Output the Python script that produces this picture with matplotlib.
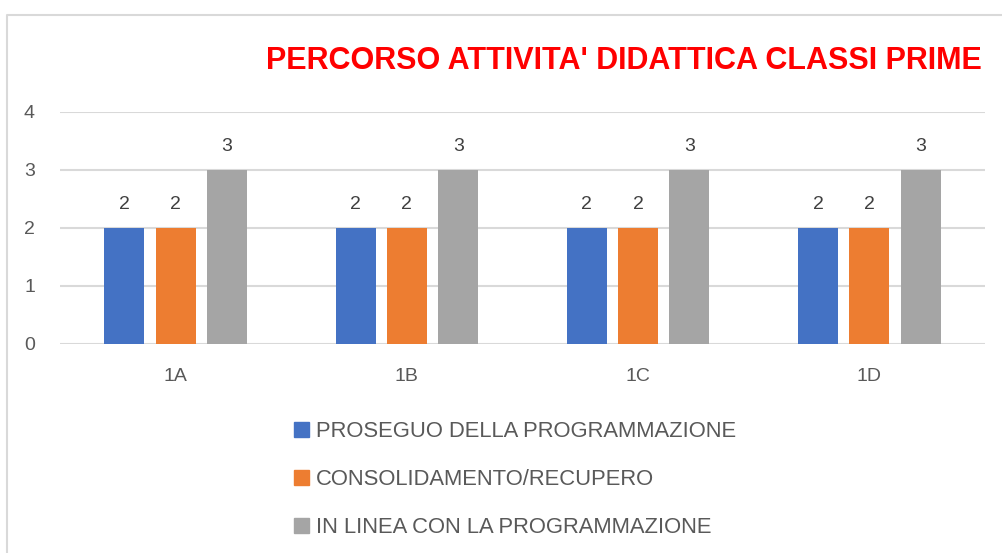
import matplotlib
matplotlib.use("Agg")
import matplotlib.pyplot as plt
import matplotlib.patches as mpatches
from matplotlib.lines import Line2D
import numpy as np

classes = ["1A", "1B", "1C", "1D"]
series_names = [
    "PROSEGUO DELLA PROGRAMMAZIONE",
    "CONSOLIDAMENTO/RECUPERO",
    "IN LINEA CON LA PROGRAMMAZIONE",
]
proseguo = [2, 2, 2, 2]
consolidamento = [2, 2, 2, 2]
in_linea = [3, 3, 3, 3]
colors = ["#4472C4", "#ED7D31", "#A5A5A5"]

plt.rcParams["font.family"] = ["Liberation Sans", "DejaVu Sans"]

W, H = 1003, 553
fig = plt.figure(figsize=(W / 100, H / 100), dpi=100)
fig.patch.set_facecolor("white")

# chart frame (only left and top visible in the crop)
fig.add_artist(Line2D([7 / W, 7 / W, 1], [0, 1 - 15 / H, 1 - 15 / H],
                      color="#d9d9d9", lw=1.5, transform=fig.transFigure))

ax = fig.add_axes([60 / W, 1 - 344 / H, 925 / W, 232 / H])
x = np.arange(len(classes))
width = 0.173
offset = 0.222
for i, vals in enumerate([proseguo, consolidamento, in_linea]):
    b = ax.bar(x + (i - 1) * offset, vals, width, color=colors[i],
               label=series_names[i], zorder=3)
    ax.bar_label(b, padding=11, fontsize=14, color="#404040")

ax.set_xlim(-0.5, len(classes) - 0.5)
ax.set_ylim(0, 4)
ax.set_yticks(range(5))
ax.set_xticks(x, classes)
ax.yaxis.grid(True, color="#d9d9d9", lw=1.5, zorder=0)
ax.set_axisbelow(True)
for s in ax.spines.values():
    s.set_visible(False)
ax.tick_params(axis="both", length=0, labelsize=14, colors="#595959")
ax.tick_params(axis="y", pad=18)
ax.tick_params(axis="x", pad=17)

fig.text(982 / W, 1 - 61 / H, "PERCORSO ATTIVITA' DIDATTICA CLASSI PRIME",
         color="#FF0000", fontsize=22, fontweight="bold",
         ha="right", va="center")

handles = [mpatches.Patch(color=c) for c in colors]
leg = fig.legend(handles, series_names, loc="upper left",
                 bbox_to_anchor=(294 / W, 1 - 421 / H), frameon=False,
                 fontsize=15.8, borderpad=0, borderaxespad=0,
                 handlelength=0.7, handleheight=0.7, handletextpad=0.3,
                 labelspacing=1.23)
for t in leg.get_texts():
    t.set_color("#595959")

fig.savefig("out.png", dpi=100, facecolor="white")
